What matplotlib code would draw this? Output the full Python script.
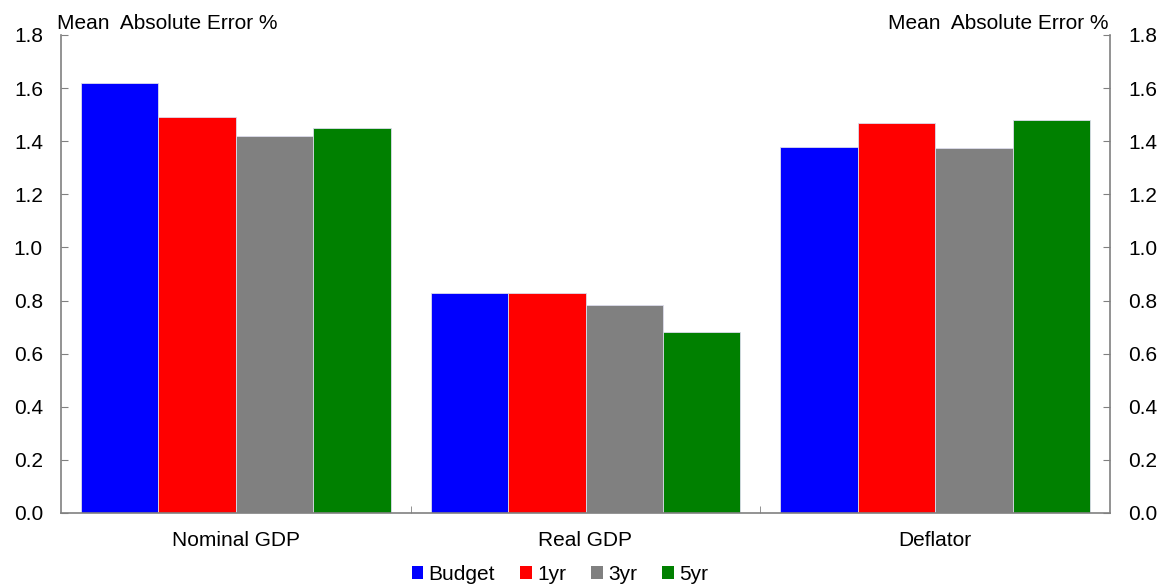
import matplotlib
matplotlib.use("Agg")
import matplotlib.pyplot as plt
import numpy as np
from matplotlib.ticker import FormatStrFormatter, FixedLocator

plt.rcParams['font.family'] = ['Liberation Sans', 'DejaVu Sans']

categories = ["Nominal GDP", "Real GDP", "Deflator"]
series_names = ["Budget", "1yr", "3yr", "5yr"]
budget = [1.62, 0.83, 1.38]
yr1 = [1.49, 0.83, 1.47]
yr3 = [1.42, 0.785, 1.375]
yr5 = [1.45, 0.68, 1.48]
colors = ["#0000FF", "#FF0000", "#808080", "#008000"]
yticks = [0.0, 0.2, 0.4, 0.6, 0.8, 1.0, 1.2, 1.4, 1.6, 1.8]
ylabel = "Mean  Absolute Error %"

W, H = 1161, 585
fig = plt.figure(figsize=(W/100, H/100), dpi=100)
ax = fig.add_axes([61/W, 1-513/H, (1110-61)/W, (513-35)/H])

data = [budget, yr1, yr3, yr5]
x = np.arange(len(categories))
bw = 0.2216
for i, (name, vals, c) in enumerate(zip(series_names, data, colors)):
    ax.bar(x + (i - 1.5)*bw, vals, width=bw, color=c, label=name,
           edgecolor="#dcdcec", linewidth=0.6, zorder=2)

ax.set_xlim(-0.5, 2.5)
ax.set_ylim(0, 1.8)
ax.set_yticks(yticks)
ax.yaxis.set_major_formatter(FormatStrFormatter('%.1f'))
ax.set_xticks(x)
ax.set_xticklabels(categories)
ax.xaxis.set_minor_locator(FixedLocator([0.5, 1.5]))
ax.tick_params(axis='x', which='major', length=0, pad=13, labelsize=15)
ax.tick_params(axis='x', which='minor', direction='in', length=5, color='#808080')
ax.tick_params(axis='y', direction='in', length=5, color='#808080', pad=13, labelsize=15,
               left=True, right=True, labelleft=True, labelright=True)

for s in ['left', 'right', 'bottom']:
    ax.spines[s].set_color('#808080')
    ax.spines[s].set_linewidth(1.2)
ax.spines['top'].set_visible(False)

fig.text(57/W, 1-29/H, ylabel, fontsize=15, ha='left', va='baseline')
fig.text(1108/W, 1-29/H, ylabel, fontsize=15, ha='right', va='baseline')

leg = fig.legend(loc='center', bbox_to_anchor=(560/W, 1-574/H), ncol=4, frameon=False,
                 fontsize=15, handlelength=0.57, handleheight=0.57, handletextpad=0.25,
                 columnspacing=1.2, borderpad=0)
for h in leg.legend_handles:
    h.set_edgecolor('none')

fig.savefig("out.png", dpi=100)
